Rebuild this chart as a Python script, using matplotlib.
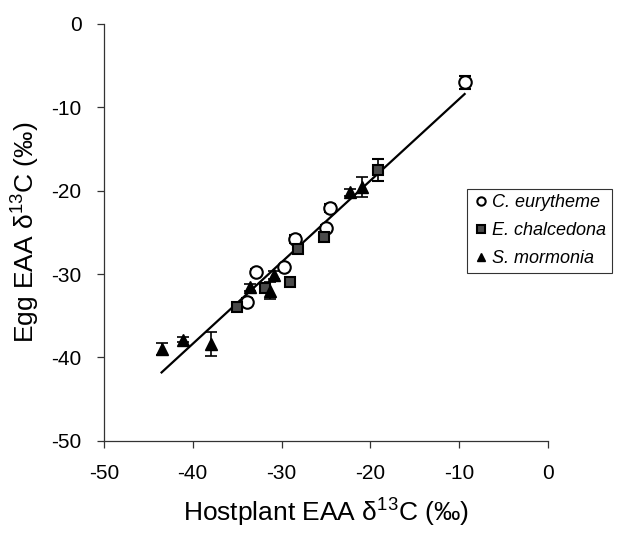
import matplotlib.pyplot as plt

plt.rcParams['font.family'] = ['Liberation Sans', 'DejaVu Sans']
plt.rcParams['axes.unicode_minus'] = False
plt.rcParams['mathtext.default'] = 'regular'

# C. eurytheme (circles)
ce_x = [-9.4, -24.6, -25.0, -28.5, -29.7, -32.9, -33.9]
ce_y = [-7.0, -22.1, -24.5, -25.8, -29.2, -29.7, -33.3]
ce_err = [0.8, 0.5, 0.4, 0.5, 0.3, 0.3, 0.4]

# E. chalcedona (squares)
ec_x = [-19.1, -25.2, -28.2, -29.1, -31.9, -35.0]
ec_y = [-17.5, -25.5, -27.0, -31.0, -31.7, -34.0]
ec_err = [1.3, 0.4, 0.4, 0.3, 0.4, 0.3]

# S. mormonia (triangles)
sm_x = [-43.4, -41.1, -37.9, -33.6, -31.3, -30.9, -22.3, -20.9]
sm_y = [-39.0, -37.9, -38.4, -31.6, -32.0, -30.1, -20.2, -19.6]
sm_err = [0.7, 0.3, 1.4, 0.4, 1.0, 0.5, 0.4, 1.2]

# regression line end points
line_x = [-43.5, -9.4]
line_y = [-41.8, -8.4]

fig = plt.figure(figsize=(6.18, 5.33), dpi=100)
ax = fig.add_axes([0.168, 0.173, 0.719, 0.782])

ax.plot(line_x, line_y, color='black', lw=1.6, zorder=2)

ax.errorbar(ce_x, ce_y, yerr=ce_err, fmt='o', ms=9, mfc='white', mec='black',
            mew=1.5, ecolor='black', elinewidth=1.2, capsize=4, capthick=1.2,
            label='C. eurytheme', zorder=3)
ax.errorbar(ec_x, ec_y, yerr=ec_err, fmt='s', ms=7, mfc='#4a4a4a', mec='black',
            mew=1.5, ecolor='black', elinewidth=1.2, capsize=4, capthick=1.2,
            label='E. chalcedona', zorder=4)
ax.errorbar(sm_x, sm_y, yerr=sm_err, fmt='^', ms=8, mfc='black', mec='black',
            ecolor='black', elinewidth=1.2, capsize=4, capthick=1.2,
            label='S. mormonia', zorder=5)

ax.set_xlim(-50, 0)
ax.set_ylim(-50, 0)
ax.set_xticks([-50, -40, -30, -20, -10, 0])
ax.set_yticks([0, -10, -20, -30, -40, -50])
ax.spines['top'].set_visible(False)
ax.spines['right'].set_visible(False)
for s in ['left', 'bottom']:
    ax.spines[s].set_color('#333333')
    ax.spines[s].set_linewidth(0.9)
ax.tick_params(direction='out', length=5, width=0.9, labelsize=15,
               color='#333333')
ax.tick_params(axis='x', pad=12)
ax.tick_params(axis='y', pad=11)

ax.set_xlabel('Hostplant EAA δ$^{13}$C (‰)', fontsize=19, labelpad=10)
ax.set_ylabel('Egg EAA δ$^{13}$C (‰)', fontsize=19, labelpad=7)

handles, labels = ax.get_legend_handles_labels()
handles = [h[0] for h in handles]
leg = ax.legend(handles, labels, loc='upper left',
                bbox_to_anchor=(467 / 618, 1 - 189 / 533),
                bbox_transform=fig.transFigure, frameon=True, fancybox=False,
                edgecolor='black', prop={'style': 'italic', 'size': 13},
                handletextpad=0.1, handlelength=1.0, borderpad=0.3,
                labelspacing=0.6, borderaxespad=0)
leg.get_frame().set_linewidth(0.8)
for h in leg.legend_handles:
    h.set_markersize(6)

fig.savefig('out.png', dpi=100)
